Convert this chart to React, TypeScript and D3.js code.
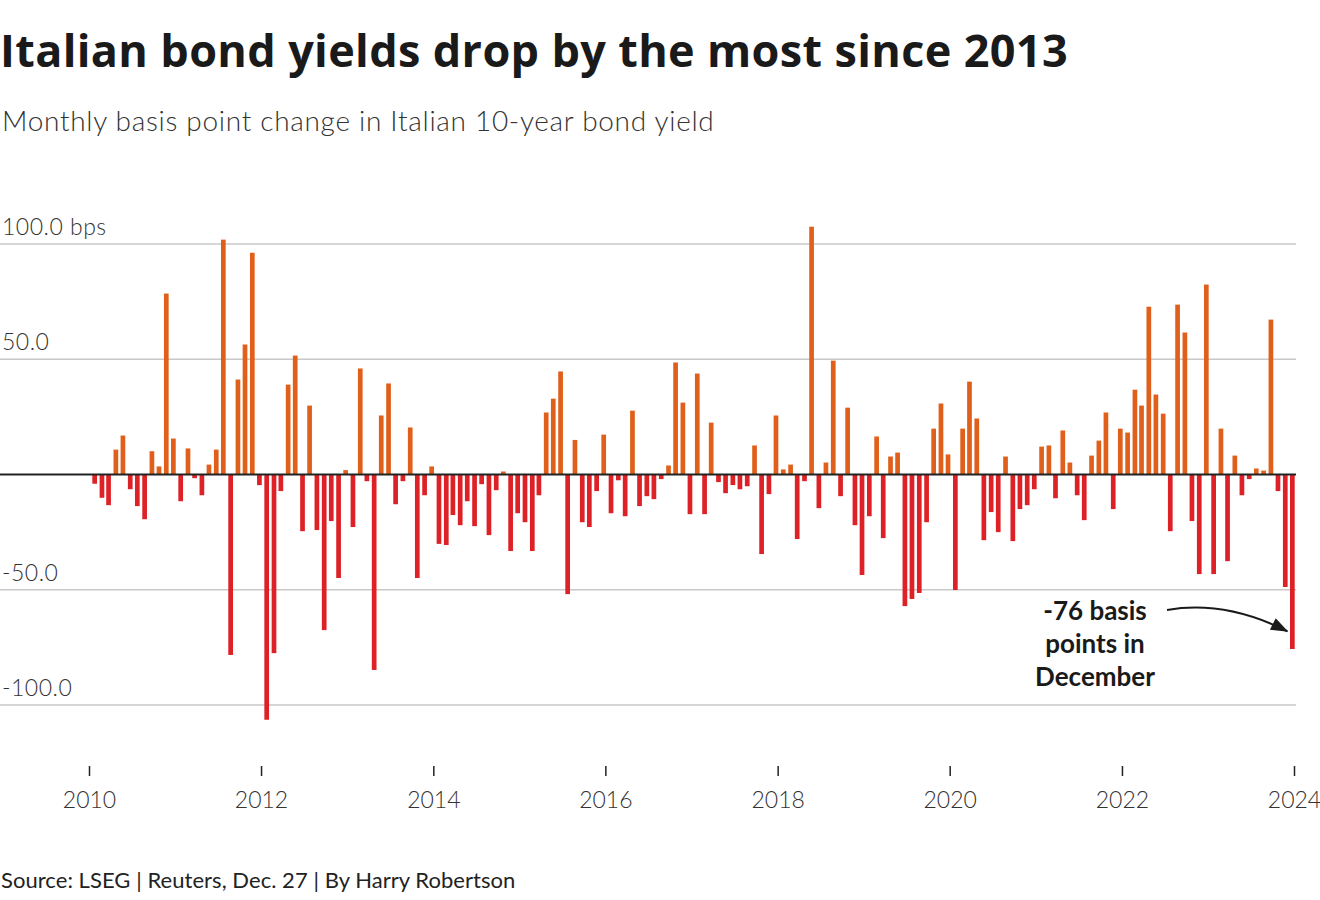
import { useEffect, useRef } from "react";
import * as d3 from "d3";

// Monthly bp change in Italian 10-year yield, Jan..Dec of each year
const Y2010 = [-4.0, -10.1, -13.3, 10.8, 16.9, -6.4, -13.7, -19.4, 10.1, 3.5, 78.5, 15.6];
const Y2011 = [-11.6, 11.3, -1.6, -9.0, 4.3, 10.8, 101.9, -78.3, 41.2, 56.4, 96.2, -4.6];
const Y2012 = [-106.4, -77.5, -7.2, 39.0, 51.6, -24.6, 29.9, -24.1, -67.5, -20.2, -44.9, 1.9];
const Y2013 = [-22.8, 46.0, -2.9, -84.8, 25.6, 39.5, -12.9, -2.9, 20.4, -44.9, -9.0, 3.5];
const Y2014 = [-30.1, -30.6, -17.6, -22.0, -11.6, -22.4, -4.2, -26.3, -6.8, 1.3, -33.2, -16.8];
const Y2015 = [-20.7, -33.2, -9.0, 26.9, 32.9, 44.7, -51.9, 15.0, -20.7, -22.8, -7.2, 17.3];
const Y2016 = [-16.8, -2.5, -18.1, 27.7, -13.7, -9.4, -10.7, -2.0, 3.9, 48.6, 31.2, -17.2];
const Y2017 = [43.8, -17.2, 22.5, -3.3, -8.1, -4.6, -6.4, -5.1, 12.6, -34.5, -8.5, 25.6];
const Y2018 = [2.2, 4.3, -28.0, -2.9, 107.5, -14.6, 5.2, 49.4, -9.4, 29.0, -22.0, -43.6];
const Y2019 = [-18.1, 16.5, -27.6, 7.8, 9.5, -57.1, -54.0, -51.4, -20.7, 19.9, 30.8, 8.7];
const Y2020 = [-50.1, 19.9, 40.3, 24.3, -28.5, -16.3, -25.0, 7.8, -28.9, -15.0, -13.3, -6.4];
const Y2021 = [12.1, 12.6, -10.3, 19.1, 5.2, -9.0, -19.8, 8.2, 14.7, 26.9, -15.0, 19.9];
const Y2022 = [18.2, 36.8, 29.9, 72.8, 34.7, 26.4, -24.6, 73.7, 61.6, -20.2, -43.2, 82.4];
const Y2023 = [-43.2, 19.9, -37.6, 8.2, -9.0, -2.0, 2.6, 1.7, 67.2, -7.2, -48.8, -75.7];

const CHANGES = [
  ...Y2010, ...Y2011, ...Y2012, ...Y2013, ...Y2014, ...Y2015, ...Y2016,
  ...Y2017, ...Y2018, ...Y2019, ...Y2020, ...Y2021, ...Y2022, ...Y2023,
];

const Y_TICKS = [100, 50, 0, -50, -100];
const X_TICKS = [2010, 2012, 2014, 2016, 2018, 2020, 2022, 2024];

const UP = "#e0601b";
const DOWN = "#de2126";
const FONT = "Lato, 'Open Sans', sans-serif";
const TITLE_FONT = "'Open Sans', Lato, sans-serif";

export default function App() {
  const svgRef = useRef<SVGSVGElement>(null);

  useEffect(() => {
    document.body.style.margin = "0";
    const svg = d3.select(svgRef.current);
    svg.selectAll("*").remove();

    const x = d3.scaleTime()
      .domain([new Date(2010, 0, 1), new Date(2024, 0, 1)])
      .range([89, 1294]);
    const y = d3.scaleLinear().domain([-100, 100]).range([705, 244]);
    const barW = 4.7;

    // Title + subtitle
    svg.append("text")
      .attr("x", 0).attr("y", 67)
      .attr("font-family", TITLE_FONT).attr("font-weight", 700).attr("font-size", 45)
      .attr("letter-spacing", 0.35)
      .attr("fill", "#1a1a1a")
      .text("Italian bond yields drop by the most since 2013");
    svg.append("text")
      .attr("x", 2).attr("y", 131)
      .attr("font-family", FONT).attr("font-weight", 300).attr("font-size", 28)
      .attr("letter-spacing", 0.7)
      .attr("fill", "#333")
      .text("Monthly basis point change in Italian 10-year bond yield");

    // Gridlines and y labels
    const grid = svg.append("g");
    for (const t of Y_TICKS) {
      if (t === 0) continue;
      grid.append("line")
        .attr("x1", 0).attr("x2", 1296).attr("y1", y(t)).attr("y2", y(t))
        .attr("stroke", "#c8c8c8").attr("stroke-width", 1.6);
      grid.append("text")
        .attr("x", 2).attr("y", y(t) - 9)
        .attr("font-family", FONT).attr("font-weight", 300).attr("font-size", 23)
        .attr("letter-spacing", 0.5)
        .attr("fill", "#333")
        .text(t === 100 ? "100.0 bps" : d3.format(".1f")(t).replace("−", "-"));
    }

    // Bars
    svg.append("g")
      .selectAll("rect")
      .data(CHANGES)
      .join("rect")
      .attr("x", (_d, i) => x(new Date(2010, i, 25)) - barW / 2)
      .attr("width", barW)
      .attr("y", (d) => (d >= 0 ? y(d) : y(0)))
      .attr("height", (d) => Math.abs(y(d) - y(0)))
      .attr("fill", (d) => (d >= 0 ? UP : DOWN));

    // Zero line
    svg.append("line")
      .attr("x1", 0).attr("x2", 1296).attr("y1", y(0)).attr("y2", y(0))
      .attr("stroke", "#222").attr("stroke-width", 2);

    // X axis
    const xAxis = d3.axisBottom(x)
      .tickValues(X_TICKS.map((yr) => new Date(yr, 0, 1)))
      .tickFormat((d) => d3.timeFormat("%Y")(d as Date))
      .tickSize(10)
      .tickPadding(16);
    svg.append("g")
      .attr("transform", "translate(0,766)")
      .call(xAxis)
      .call((sel) => {
        sel.select(".domain").remove();
        sel.selectAll(".tick line").attr("stroke", "#222").attr("stroke-width", 1.5);
        sel.selectAll(".tick text")
          .attr("fill", "#333").attr("font-size", 23)
          .attr("font-family", FONT).attr("font-weight", 300);
      });

    // Annotation
    const lines = ["-76 basis", "points in", "December"];
    svg.append("text")
      .attr("font-family", FONT).attr("font-weight", 700).attr("font-size", 26)
      .attr("fill", "#1a1a1a").attr("text-anchor", "middle")
      .selectAll("tspan")
      .data(lines)
      .join("tspan")
      .attr("x", 1095)
      .attr("y", (_d, i) => 620 + i * 33)
      .text((d) => d);

    const last = CHANGES.length - 1;
    const tipX = x(new Date(2010, last, 25)) - 5;
    const tipY = y(-68);
    const defs = svg.append("defs");
    defs.append("marker")
      .attr("id", "arrow")
      .attr("viewBox", "0 0 16 12")
      .attr("refX", 15).attr("refY", 6)
      .attr("markerWidth", 18).attr("markerHeight", 13)
      .attr("markerUnits", "userSpaceOnUse")
      .attr("orient", "auto")
      .append("path")
      .attr("d", "M0,0 L16,6 L0,12 Z")
      .attr("fill", "#1a1a1a");
    const path = d3.path();
    path.moveTo(1167, 610);
    path.quadraticCurveTo(1225, 600, tipX, tipY);
    svg.append("path")
      .attr("d", path.toString())
      .attr("fill", "none").attr("stroke", "#1a1a1a").attr("stroke-width", 2)
      .attr("marker-end", "url(#arrow)");

    // Source
    svg.append("text")
      .attr("x", 1).attr("y", 888)
      .attr("font-family", FONT).attr("font-size", 22)
      .attr("letter-spacing", 0.05)
      .attr("fill", "#222")
      .text("Source: LSEG | Reuters, Dec. 27 | By Harry Robertson");
  }, []);

  return <svg ref={svgRef} width={1320} height={900} style={{ display: "block" }} />;
}
